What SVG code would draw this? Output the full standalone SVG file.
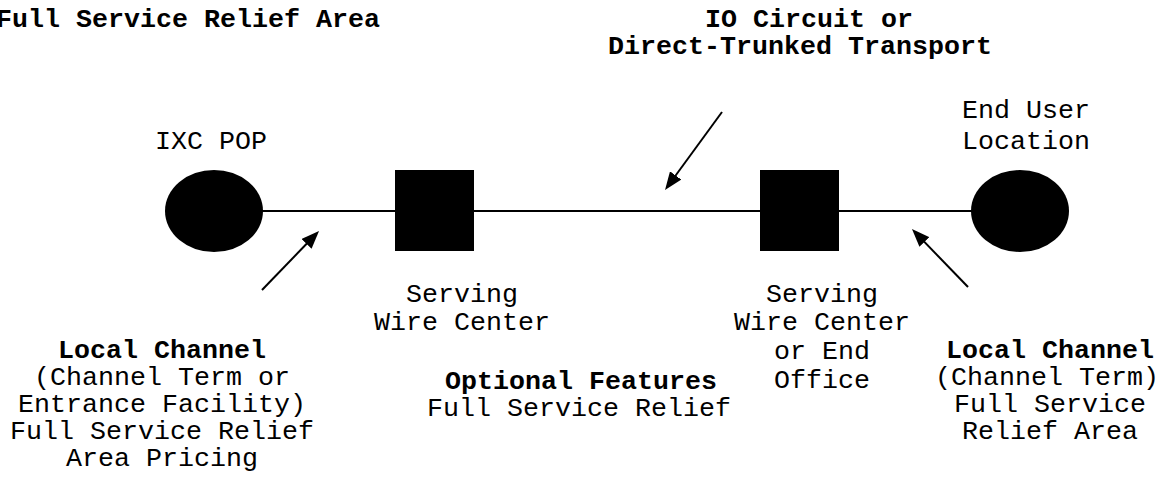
<svg xmlns="http://www.w3.org/2000/svg" width="1158" height="484" viewBox="0 0 1158 484">
<style>
text{font-family:"Liberation Mono","Courier New",monospace;font-size:26.67px;fill:#000}
.b{font-weight:bold}
.m{text-anchor:middle}
.conn{stroke:#000;stroke-width:2;fill:none}
.node{fill:#000}
</style>
<defs>
<marker id="ah" markerUnits="userSpaceOnUse" markerWidth="18" markerHeight="14" refX="5" refY="7" orient="auto">
<path d="M0,0 L18,7 L0,14 z" fill="#000"/>
</marker>
</defs>
<rect width="1158" height="484" fill="#fff"/>
<g id="titles">
<text class="b" x="-4" y="27">Full Service Relief Area</text>
<text class="b" x="705" y="27">IO Circuit or</text>
<text class="b" x="608" y="53.5">Direct-Trunked Transport</text>
</g>
<g id="connectors">
<line class="conn" x1="262" y1="211" x2="396" y2="211"/>
<line class="conn" x1="473" y1="211" x2="761" y2="211"/>
<line class="conn" x1="838" y1="211" x2="972" y2="211"/>
<line class="conn" x1="262" y1="290" x2="310" y2="240.3" marker-end="url(#ah)"/>
<line class="conn" x1="722" y1="112" x2="672.7" y2="179.5" marker-end="url(#ah)"/>
<line class="conn" x1="968" y1="287" x2="921" y2="238.4" marker-end="url(#ah)"/>
</g>
<g id="ixc-pop">
<ellipse class="node" cx="214" cy="211" rx="49" ry="41"/>
<text class="m" x="211" y="149">IXC POP</text>
</g>
<g id="serving-wire-center">
<rect class="node" x="395" y="170" width="79" height="81"/>
<text class="m" x="462" y="301.5">Serving</text>
<text class="m" x="462" y="330">Wire Center</text>
</g>
<g id="serving-end-office">
<rect class="node" x="760" y="170" width="79" height="81"/>
<text class="m" x="822" y="301.5">Serving</text>
<text class="m" x="822" y="330">Wire Center</text>
<text class="m" x="822" y="359">or End</text>
<text class="m" x="822" y="388">Office</text>
</g>
<g id="end-user">
<ellipse class="node" cx="1020" cy="211" rx="49" ry="41"/>
<text class="m" x="1026" y="118">End User</text>
<text class="m" x="1026" y="149">Location</text>
</g>
<g id="local-channel-left">
<text class="m b" x="162" y="358">Local Channel</text>
<text class="m" x="162" y="385">(Channel Term or</text>
<text class="m" x="162" y="412">Entrance Facility)</text>
<text class="m" x="162" y="439">Full Service Relief</text>
<text class="m" x="162" y="466">Area Pricing</text>
</g>
<g id="optional-features">
<text class="m b" x="581" y="388.5">Optional Features</text>
<text class="m" x="579" y="415.5">Full Service Relief</text>
</g>
<g id="local-channel-right">
<text class="m b" x="1050" y="358">Local Channel</text>
<text class="m" x="1047" y="385">(Channel Term)</text>
<text class="m" x="1050" y="412">Full Service</text>
<text class="m" x="1050" y="439">Relief Area</text>
</g>
</svg>
